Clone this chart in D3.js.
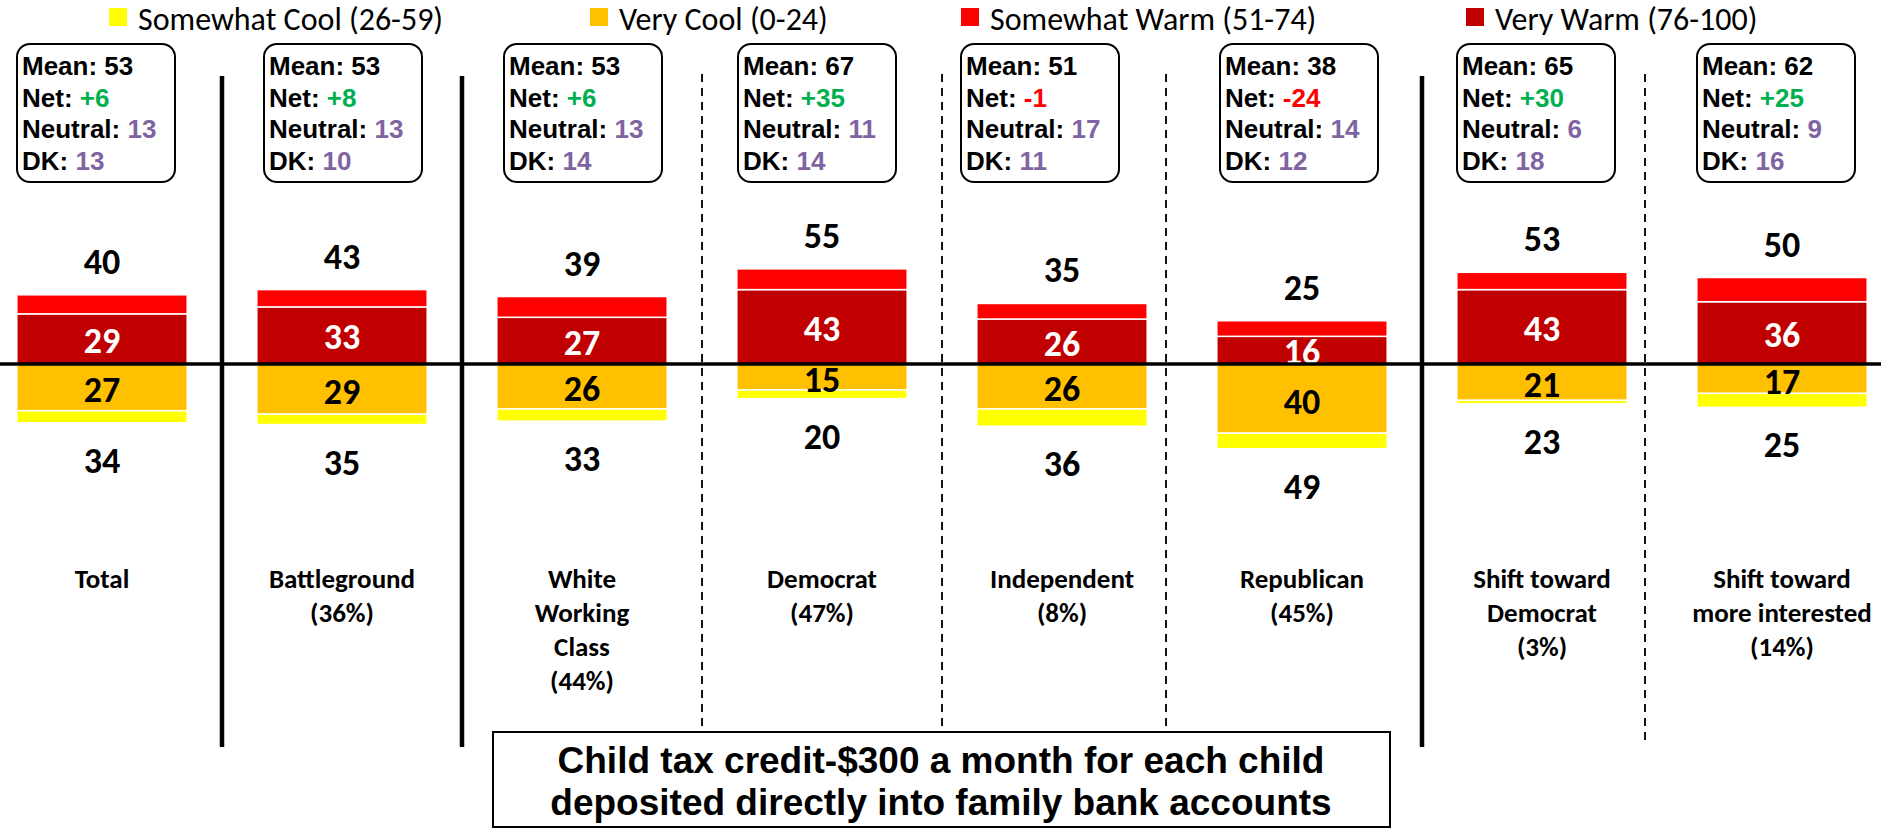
<!DOCTYPE html>
<html>
<head>
<meta charset="utf-8">
<script src="https://cdn.jsdelivr.net/npm/d3@7"></script>
<style>
  html, body { margin: 0; padding: 0; background: #fff; }
  svg { display: block; }
</style>
</head>
<body>
<svg id="chart" width="1881" height="830"></svg>
<script>
// ---------------- DATA ----------------
const categories = ["Total", "Battleground", "White Working Class", "Democrat", "Independent", "Republican", "Shift toward Democrat", "Shift toward more interested"];
const categoryLines = [
  ["Total"],
  ["Battleground", "(36%)"],
  ["White", "Working", "Class", "(44%)"],
  ["Democrat", "(47%)"],
  ["Independent", "(8%)"],
  ["Republican", "(45%)"],
  ["Shift toward", "Democrat", "(3%)"],
  ["Shift toward", "more interested", "(14%)"]
];
const veryWarm     = [29, 33, 27, 43, 26, 16, 43, 36];
const somewhatWarm = [11, 10, 12, 12,  9,  9, 10, 14];
const veryCool     = [27, 29, 26, 15, 26, 40, 21, 17];
const somewhatCool = [ 7,  6,  7,  5, 10,  9,  2,  8];
const meanVals     = [53, 53, 53, 67, 51, 38, 65, 62];
const netVals      = [6, 8, 6, 35, -1, -24, 30, 25];
const neutralVals  = [13, 13, 13, 11, 17, 14, 6, 9];
const dkVals       = [13, 10, 14, 14, 11, 12, 18, 16];
const legendLabels = ["Somewhat Cool (26-59)", "Very Cool (0-24)", "Somewhat Warm (51-74)", "Very Warm (76-100)"];
const titleLines   = ["Child tax credit-$300 a month for each child", "deposited directly into family bank accounts"];

// ---------------- LAYOUT / STYLE ----------------
const W = 1881, H = 830;
const colors = { somewhatCool: "#FFFF00", veryCool: "#FFC000", somewhatWarm: "#FF0000", veryWarm: "#C00000" };
const legendColors = [colors.somewhatCool, colors.veryCool, colors.somewhatWarm, colors.veryWarm];
const legendSquareX = [109, 590, 961, 1466];
const boxShift = [-6, 1, 1, -5, -22, -3, -6, -6];
const dividers = [
  { after: 0, type: "solid", shift: 0 },
  { after: 1, type: "solid", shift: 0 },
  { after: 2, type: "dash", shift: 0 },
  { after: 3, type: "dash", shift: 0 },
  { after: 4, type: "dash", shift: -16 },
  { after: 5, type: "solid", shift: 0 },
  { after: 6, type: "dash", shift: -17 }
];
const calibri = "Carlito, Calibri, 'Liberation Sans Narrow', 'DejaVu Sans Condensed', sans-serif";
const arial = "'Liberation Sans', Arial, Helvetica, sans-serif";

const svg = d3.select("#chart");

const x = d3.scaleBand().domain(categories).range([-18, 1902]).paddingInner(0.29).paddingOuter(0.145);
const y = d3.scaleLinear().domain([-100, 100]).range([537, 191]);
const bw = x.bandwidth();
const cx = (i) => x(categories[i]) + bw / 2;

const rows = categories.map((c, i) => ({
  c, i,
  vw: veryWarm[i], sw: somewhatWarm[i], vc: veryCool[i], sc: somewhatCool[i],
  warmTotal: veryWarm[i] + somewhatWarm[i], coolTotal: veryCool[i] + somewhatCool[i]
}));

// ---------------- DIVIDERS ----------------
const gDiv = svg.append("g");
dividers.forEach(d => {
  const xp = x(categories[d.after]) + bw + (x.step() - bw) / 2 + d.shift;
  gDiv.append("line")
    .attr("x1", xp).attr("x2", xp)
    .attr("y1", d.type === "solid" ? 76 : 74)
    .attr("y2", d.type === "solid" ? 747 : 740)
    .attr("stroke", d.type === "solid" ? "#000" : "#1a1410")
    .attr("stroke-width", d.type === "solid" ? 4.5 : 2)
    .attr("stroke-dasharray", d.type === "solid" ? null : "8,6");
});

// ---------------- BARS ----------------
const gBars = svg.append("g");
const segs = [];
rows.forEach(r => {
  segs.push({ r, y0: 0, y1: r.vw, color: colors.veryWarm });
  segs.push({ r, y0: r.vw, y1: r.warmTotal, color: colors.somewhatWarm });
  segs.push({ r, y0: 0, y1: -r.vc, color: colors.veryCool });
  segs.push({ r, y0: -r.vc, y1: -r.coolTotal, color: colors.somewhatCool });
});
gBars.selectAll("rect").data(segs).join("rect")
  .attr("x", d => x(d.r.c))
  .attr("width", bw)
  .attr("y", d => Math.min(y(d.y0), y(d.y1)))
  .attr("height", d => Math.abs(y(d.y0) - y(d.y1)))
  .attr("fill", d => d.color)
  .attr("stroke", "#fff")
  .attr("stroke-width", 1.5);

// ---------------- BAR LABELS ----------------
const gLab = svg.append("g").attr("font-family", calibri).attr("font-weight", "bold").attr("font-size", 36).attr("text-anchor", "middle");
gLab.selectAll("text.vw").data(rows).join("text").attr("class", "vw")
  .attr("x", d => cx(d.i)).attr("y", d => (y(0) + y(d.vw)) / 2 + 2)
  .attr("dominant-baseline", "central").attr("fill", "#fff")
  .text(d => d.vw);
gLab.selectAll("text.vc").data(rows).join("text").attr("class", "vc")
  .attr("x", d => cx(d.i)).attr("y", d => (y(0) + y(-d.vc)) / 2 + 3)
  .attr("dominant-baseline", "central").attr("fill", "#000")
  .text(d => d.vc);
gLab.selectAll("text.wt").data(rows).join("text").attr("class", "wt")
  .attr("x", d => cx(d.i)).attr("y", d => y(d.warmTotal) - 33)
  .attr("dominant-baseline", "central").attr("fill", "#000")
  .text(d => d.warmTotal);
gLab.selectAll("text.ct").data(rows).join("text").attr("class", "ct")
  .attr("x", d => cx(d.i)).attr("y", d => y(-d.coolTotal) + 38)
  .attr("dominant-baseline", "central").attr("fill", "#000")
  .text(d => d.coolTotal);

// ---------------- ZERO LINE ----------------
svg.append("line").attr("x1", 0).attr("x2", W).attr("y1", y(0)).attr("y2", y(0))
  .attr("stroke", "#000").attr("stroke-width", 3.5);

// ---------------- CATEGORY LABELS ----------------
const gCat = svg.append("g").attr("font-family", calibri).attr("font-weight", "bold").attr("font-size", 27).attr("text-anchor", "middle");
rows.forEach(r => {
  const t = gCat.append("text").attr("x", cx(r.i)).attr("y", 578).attr("dominant-baseline", "central");
  categoryLines[r.i].forEach((ln, k) => {
    t.append("tspan").attr("x", cx(r.i)).attr("dy", k === 0 ? 0 : 34).text(ln);
  });
});

// ---------------- STAT BOXES ----------------
const boxW = 158, boxH = 138, boxTop = 44;
const gBox = svg.append("g");
rows.forEach(r => {
  const bx = cx(r.i) + boxShift[r.i] - boxW / 2;
  gBox.append("rect").attr("x", bx).attr("y", boxTop).attr("width", boxW).attr("height", boxH)
    .attr("rx", 13).attr("ry", 13).attr("fill", "#fff").attr("stroke", "#000").attr("stroke-width", 2);
  const lines = [
    ["Mean: ", String(meanVals[r.i]), "#000"],
    ["Net: ", (netVals[r.i] > 0 ? "+" : "") + netVals[r.i], netVals[r.i] >= 0 ? "#00B050" : "#FF0000"],
    ["Neutral: ", String(neutralVals[r.i]), "#8064A2"],
    ["DK: ", String(dkVals[r.i]), "#8064A2"]
  ];
  const baselines = [75, 107, 138, 170];
  lines.forEach((ln, k) => {
    const t = gBox.append("text").attr("x", bx + 5).attr("y", baselines[k])
      .attr("font-family", arial).attr("font-weight", "bold").attr("font-size", 26);
    t.append("tspan").attr("fill", "#000").text(ln[0]);
    t.append("tspan").attr("fill", ln[2]).text(ln[1]);
  });
});

// ---------------- LEGEND ----------------
const gLeg = svg.append("g");
legendLabels.forEach((lab, i) => {
  gLeg.append("rect").attr("x", legendSquareX[i]).attr("y", 8).attr("width", 18).attr("height", 18).attr("fill", legendColors[i]);
  gLeg.append("text").attr("x", legendSquareX[i] + 29).attr("y", 30)
    .attr("font-family", calibri).attr("font-size", 32).attr("fill", "#000").text(lab);
});

// ---------------- TITLE BOX ----------------
const gT = svg.append("g");
gT.append("rect").attr("x", 493).attr("y", 732).attr("width", 897).attr("height", 95)
  .attr("fill", "#fff").attr("stroke", "#000").attr("stroke-width", 2);
titleLines.forEach((ln, k) => {
  gT.append("text").attr("x", 941).attr("y", k === 0 ? 773 : 815)
    .attr("text-anchor", "middle").attr("font-family", arial).attr("font-weight", "bold")
    .attr("font-size", 37).attr("fill", "#000").text(ln);
});
</script>
</body>
</html>
